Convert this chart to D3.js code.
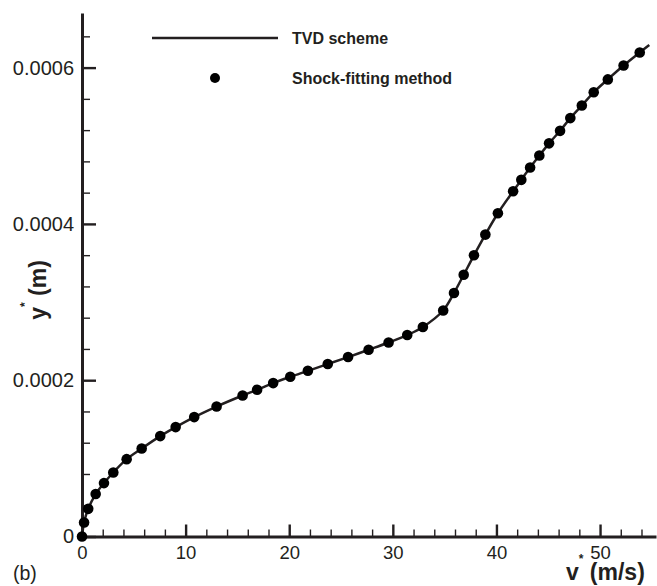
<!DOCTYPE html>
<html>
<head>
<meta charset="utf-8">
<script src="https://cdn.jsdelivr.net/npm/d3@7"></script>
<style>
  body { margin: 0; background: #fff; }
  svg { display: block; font-family: "Liberation Sans", Arial, sans-serif; }
</style>
</head>
<body>
<svg id="chart" width="657" height="586"></svg>
<script>
// shock-fitting points (v* in m/s, y* in m)
let fitVel = [0, 0.2, 0.6, 1.32, 2.12, 3.02, 4.31, 5.76, 7.55, 9.04, 10.83, 12.99,
    15.5, 16.9, 18.45, 20.1, 21.8, 23.72, 25.68, 27.66, 29.59, 31.39, 32.9,
    34.86, 35.9, 36.84, 37.83, 38.93, 40.14, 41.61, 42.4, 43.25, 44.14, 45.08,
    46.14, 47.13, 48.24, 49.39, 50.75, 52.27, 53.83];
let fitY = [0, 0.0000179, 0.0000354, 0.0000543, 0.0000683, 0.0000819, 0.000099,
    0.0001126, 0.0001285, 0.00014, 0.0001528, 0.0001663, 0.0001804, 0.0001877,
    0.0001963, 0.0002044, 0.000212, 0.0002207, 0.0002296, 0.0002389, 0.0002482,
    0.0002578, 0.0002681, 0.0002892, 0.0003115, 0.0003349, 0.0003598, 0.0003863,
    0.0004136, 0.0004417, 0.0004564, 0.0004722, 0.0004875, 0.0005031, 0.0005191,
    0.0005354, 0.0005515, 0.0005684, 0.0005849, 0.0006026, 0.0006193];

// TVD scheme curve
let tvdVel = fitVel.concat([54.75]);
let tvdY = fitY.concat([0.000629]);

let xMajor = [0, 10, 20, 30, 40, 50];
let yMajor = [0, 0.0002, 0.0004, 0.0006];

let legendNames = ["TVD scheme", "Shock-fitting method"];

let ink = "#231f20";
let chart = d3.select("#chart");

let x = d3.scaleLinear().domain([0, 55.4]).range([82, 656]);
let y = d3.scaleLinear().domain([0, 0.00067]).range([536.5, 12.9]);

let xMinor = d3.range(2, 55, 2).filter(function(d) { return d % 10 !== 0; });
let yMinor = d3.range(1, 17).map(function(i) { return i * 0.00004; })
    .filter(function(d) { return Math.abs(d / 0.0002 - Math.round(d / 0.0002)) > 1e-6; });

//minor ticks
chart.append("g")
    .attr("transform", "translate(0," + y(0) + ")")
    .call(d3.axisBottom(x).tickValues(xMinor).tickSize(-7).tickFormat(""))
    .call(function(g) { g.select(".domain").remove(); })
    .selectAll("line").attr("stroke", ink).attr("stroke-width", 1.4);

chart.append("g")
    .attr("transform", "translate(" + x(0) + ",0)")
    .call(d3.axisLeft(y).tickValues(yMinor).tickSize(-8).tickFormat(""))
    .call(function(g) { g.select(".domain").remove(); })
    .selectAll("line").attr("stroke", ink).attr("stroke-width", 1.4);

//major ticks + labels
let gx = chart.append("g")
    .attr("transform", "translate(0," + y(0) + ")")
    .call(d3.axisBottom(x).tickValues(xMajor).tickSize(-12).tickSizeOuter(0).tickPadding(9));
gx.selectAll("line").attr("stroke", ink).attr("stroke-width", 2.4);
gx.select(".domain").attr("stroke", ink).attr("stroke-width", 3);
gx.selectAll("text").attr("font-size", "18.5px").attr("fill", ink).attr("font-family", "Liberation Sans, Arial, sans-serif");

let gy = chart.append("g")
    .attr("transform", "translate(" + x(0) + ",0)")
    .call(d3.axisLeft(y).tickValues(yMajor).tickSize(-14).tickSizeOuter(0).tickPadding(8)
        .tickFormat(function(d) { return d === 0 ? "0" : d.toFixed(4); }));
gy.selectAll("line").attr("stroke", ink).attr("stroke-width", 2.4);
gy.select(".domain").attr("stroke", ink).attr("stroke-width", 3);
gy.selectAll("text").attr("font-size", "20px").attr("fill", ink).attr("font-family", "Liberation Sans, Arial, sans-serif");

//TVD line
let line = d3.line()
    .x(function(d) { return x(d[0]); })
    .y(function(d) { return y(d[1]); })
    .curve(d3.curveCatmullRom);

chart.append("path")
    .datum(d3.zip(tvdVel, tvdY))
    .attr("d", line)
    .attr("fill", "none")
    .attr("stroke", ink)
    .attr("stroke-width", 2.5);

//shock-fitting dots
chart.selectAll("circle.fit")
    .data(d3.zip(fitVel, fitY))
    .enter()
    .append("circle")
        .attr("class", "fit")
        .attr("cx", function(d) { return x(d[0]); })
        .attr("cy", function(d) { return y(d[1]); })
        .attr("r", 5.3)
        .attr("fill", "#000");

//legend
chart.append("line").attr("x1", 152).attr("x2", 278).attr("y1", 38).attr("y2", 38)
    .attr("stroke", ink).attr("stroke-width", 2.5);
chart.append("circle").attr("cx", 215).attr("cy", 78).attr("r", 5).attr("fill", "#000");
chart.append("text").attr("x", 292).attr("y", 43.5).text(legendNames[0])
    .attr("font-size", "16px").attr("font-weight", "bold").attr("fill", ink);
chart.append("text").attr("x", 292).attr("y", 83.5).text(legendNames[1])
    .attr("font-size", "16px").attr("font-weight", "bold").attr("fill", ink);

//axis titles
let xt = chart.append("text")
    .attr("x", 566).attr("y", 580)
    .attr("font-size", "23px").attr("font-weight", "bold").attr("fill", ink);
xt.append("tspan").text("v");
xt.append("tspan").attr("font-size", "12px").attr("dy", -17).text("*");
xt.append("tspan").attr("dy", 17).text(" (m/s)");

let yt = chart.append("text")
    .attr("transform", "translate(46,290) rotate(-90)")
    .attr("text-anchor", "middle")
    .attr("font-size", "23px").attr("font-weight", "bold").attr("fill", ink);
yt.append("tspan").text("y");
yt.append("tspan").attr("font-size", "12px").attr("dy", -17).text("*");
yt.append("tspan").attr("dy", 17).text(" (m)");

chart.append("text").attr("x", 13).attr("y", 580).text("(b)")
    .attr("font-size", "19.5px").attr("fill", ink);
</script>
</body>
</html>
